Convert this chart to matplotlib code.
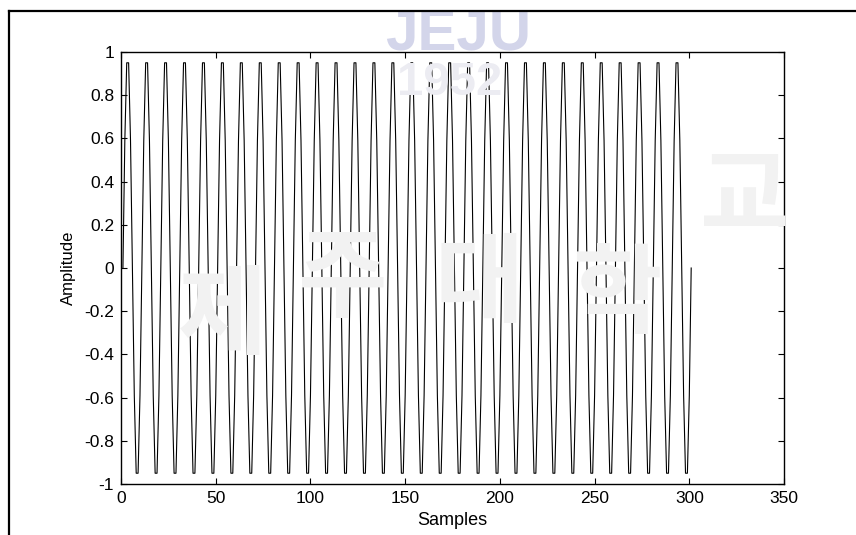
import numpy as np
import matplotlib
matplotlib.use('Agg')
import matplotlib.pyplot as plt
from matplotlib.lines import Line2D

plt.rcParams['font.family'] = ['Liberation Sans', 'Noto Sans CJK KR', 'DejaVu Sans']

cycle = [0.0, 0.59, 0.95, 0.95, 0.59, 0.0, -0.59, -0.95, -0.95, -0.59]
n_cycles = 30
last_value = 0.0

signal = np.array(cycle * n_cycles + [last_value])
samples = np.arange(1, len(signal) + 1)

xticks = [0, 50, 100, 150, 200, 250, 300, 350]
yticks = [-1, -0.8, -0.6, -0.4, -0.2, 0, 0.2, 0.4, 0.6, 0.8, 1]
ytick_labels = ['-1', '-0.8', '-0.6', '-0.4', '-0.2', '0', '0.2', '0.4', '0.6', '0.8', '1']

fig = plt.figure(figsize=(8.56, 5.35), dpi=100)

# faint watermark behind everything
fig.text(0.535, 0.935, 'JEJU', fontsize=42, color='#d3d5ea', ha='center', va='center',
         fontweight='bold', zorder=0)
fig.text(0.525, 0.845, '1952', fontsize=34, color='#ececf2', ha='center', va='center',
         fontweight='bold', zorder=0)
for ch, x, y in [('제', 0.26, 0.40), ('주', 0.40, 0.47), ('대', 0.56, 0.46),
                 ('학', 0.72, 0.44), ('교', 0.87, 0.62)]:
    fig.text(x, y, ch, fontsize=70, color='#f2f2f2', ha='center', va='center',
             fontweight='bold', zorder=0)

ax = fig.add_axes([0.1414, 0.0953, 0.7745, 0.8075])
ax.patch.set_alpha(0)
ax.plot(samples, signal, color='black', lw=0.8)

ax.set_xlim(0, 350)
ax.set_ylim(-1, 1)
ax.set_xticks(xticks)
ax.set_yticks(yticks)
ax.set_yticklabels(ytick_labels)
ax.tick_params(direction='in', top=True, right=True, length=4, width=0.8,
               labelsize=12.5, pad=5)
for s in ax.spines.values():
    s.set_linewidth(1.0)

ax.set_xlabel('Samples', fontsize=13, labelpad=4)
ax.set_ylabel('Amplitude', fontsize=12, labelpad=6)

# outer frame (top and left edges of the figure border)
fig.add_artist(Line2D([9 / 856, 9 / 856], [0, 1 - 11 / 535], transform=fig.transFigure,
                      color='black', lw=1.6))
fig.add_artist(Line2D([9 / 856, 1], [1 - 11 / 535, 1 - 11 / 535], transform=fig.transFigure,
                      color='black', lw=1.6))

fig.savefig('out.png', dpi=100)
